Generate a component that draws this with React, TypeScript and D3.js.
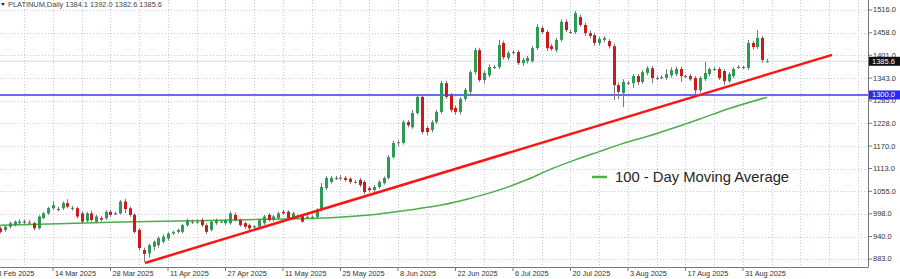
import React, { useEffect } from "react";
import * as d3 from "d3";

// ---------- DATA ----------
// daily bars, one per index (MT4 chart, Sunday bars included)
const opens = [
  961, 957, 965, 969, 974, 978, 976, 974, 961, 987, 999, 1012, 1010, 1012, 1025, 1013, 1012, 999, 980, 999,
  978, 987, 986, 1003, 999, 999, 1029, 1012, 995, 957, 906, 897, 914, 918, 927, 935, 948, 952, 952, 969,
  978, 978, 982, 969, 957, 974, 978, 974, 974, 995, 982, 974, 969, 965, 965, 974, 995, 982, 987, 1003,
  1003, 987, 991, 992, 990, 990, 990, 1008, 1063, 1079, 1089, 1088, 1089, 1087, 1079, 1084, 1079, 1063, 1058, 1066,
  1076, 1089, 1142, 1178, 1178, 1231, 1218, 1254, 1295, 1216, 1211, 1231, 1257, 1330, 1300, 1267, 1257, 1290, 1308, 1358,
  1414, 1338, 1350, 1371, 1371, 1432, 1394, 1409, 1409, 1381, 1386, 1386, 1419, 1470, 1460, 1424, 1414, 1440, 1486, 1460,
  1460, 1498, 1478, 1457, 1452, 1432, 1440, 1437, 1424, 1325, 1305, 1330, 1330, 1348, 1333, 1356, 1368, 1343, 1345, 1343,
  1350, 1353, 1366, 1348, 1348, 1343, 1312, 1340, 1353, 1366, 1366, 1361, 1335, 1348, 1371, 1371, 1369, 1432, 1422, 1445,
  1384.1,
];
const highs = [
  966, 968, 978, 981, 984, 983, 982, 978, 994, 1003, 1016, 1030, 1016, 1030, 1035, 1018, 1016, 1004, 1003, 1006,
  995, 992, 1007, 1008, 1003, 1033, 1036, 1016, 999, 962, 912, 922, 930, 940, 946, 951, 955, 960, 972, 986,
  983, 984, 987, 974, 981, 986, 983, 986, 1003, 1001, 986, 978, 973, 969, 986, 995, 1000, 995, 1003, 1008,
  1007, 1003, 996, 996, 995, 994, 1012, 1076, 1094, 1094, 1094, 1096, 1094, 1091, 1084, 1089, 1083, 1068, 1071, 1083,
  1093, 1147, 1183, 1186, 1236, 1236, 1262, 1302, 1300, 1222, 1236, 1262, 1336, 1336, 1305, 1273, 1295, 1318, 1363, 1420,
  1420, 1362, 1378, 1376, 1440, 1438, 1412, 1414, 1414, 1394, 1399, 1425, 1480, 1476, 1465, 1430, 1445, 1492, 1492, 1466,
  1514, 1504, 1484, 1464, 1458, 1448, 1450, 1442, 1430, 1332, 1340, 1336, 1353, 1354, 1363, 1373, 1374, 1348, 1350, 1366,
  1370, 1372, 1372, 1352, 1353, 1348, 1348, 1384, 1370, 1371, 1371, 1366, 1358, 1371, 1376, 1375, 1440, 1438, 1465, 1450,
  1392.0,
];
const lows = [
  948, 952, 961, 966, 970, 972, 970, 956, 958, 984, 995, 1008, 1004, 1008, 1012, 1006, 986, 972, 976, 978,
  974, 978, 983, 990, 995, 996, 1000, 990, 948, 905, 875, 886, 905, 912, 922, 930, 944, 948, 948, 965,
  972, 973, 965, 946, 953, 970, 974, 970, 970, 978, 965, 960, 956, 960, 961, 970, 978, 978, 983, 996,
  983, 983, 986, 975, 985, 986, 986, 1004, 1058, 1075, 1084, 1083, 1080, 1074, 1075, 1066, 1048, 1052, 1054, 1062,
  1072, 1085, 1138, 1170, 1174, 1218, 1214, 1250, 1200, 1198, 1205, 1226, 1252, 1290, 1256, 1250, 1250, 1285, 1300, 1352,
  1333, 1330, 1345, 1366, 1366, 1390, 1388, 1404, 1376, 1374, 1380, 1382, 1414, 1455, 1412, 1412, 1408, 1435, 1460, 1455,
  1455, 1473, 1450, 1444, 1425, 1426, 1434, 1418, 1287, 1290, 1269, 1325, 1318, 1325, 1328, 1350, 1330, 1338, 1340, 1338,
  1344, 1348, 1333, 1343, 1336, 1300, 1306, 1335, 1348, 1361, 1338, 1325, 1330, 1343, 1366, 1366, 1364, 1415, 1417, 1382,
  1382.6,
];
const closes = [
  952, 965, 974, 978, 978, 976, 975, 961, 991, 999, 1012, 1020, 1009, 1025, 1016, 1012, 991, 978, 999, 982,
  991, 983, 1003, 995, 999, 1029, 1010, 995, 952, 911, 896, 918, 927, 936, 940, 948, 952, 957, 969, 982,
  977, 978, 969, 952, 978, 982, 978, 982, 999, 982, 969, 965, 961, 966, 982, 991, 982, 991, 999, 999,
  987, 999, 990, 978, 990, 990, 1008, 1066, 1089, 1089, 1089, 1090, 1084, 1079, 1079, 1071, 1053, 1058, 1066, 1079,
  1089, 1142, 1178, 1180, 1231, 1223, 1254, 1295, 1206, 1206, 1231, 1257, 1330, 1295, 1262, 1257, 1290, 1313, 1358, 1414,
  1338, 1356, 1371, 1371, 1427, 1396, 1407, 1409, 1381, 1389, 1394, 1419, 1473, 1460, 1419, 1417, 1440, 1486, 1465, 1460,
  1508, 1478, 1457, 1450, 1432, 1442, 1445, 1424, 1325, 1308, 1333, 1331, 1348, 1333, 1358, 1368, 1343, 1343, 1345, 1353,
  1363, 1366, 1348, 1348, 1340, 1312, 1343, 1356, 1366, 1366, 1343, 1335, 1353, 1366, 1371, 1371, 1432, 1422, 1445, 1389,
  1385.6,
];

// 100-day moving average, sampled at bar indices
const maIndex = [0, 10, 25, 40, 55, 69, 77, 85, 92, 98, 104, 110, 115, 120, 125, 130, 136, 141, 146, 152, 160];
const maValue = [969, 972, 977, 980, 984, 988, 995, 1007, 1020, 1037, 1058, 1085, 1112, 1135, 1156, 1177, 1198, 1218, 1239, 1265, 1294];

// trend line (bar index, price) and horizontal level
const trendIndex = [30.2, 173.6];
const trendPrice = [873, 1402];
const levelPrice = 1300;
const lastPrice = 1385.6;

// axis ticks
const priceTicks = [883, 940, 998, 1055, 1113, 1170, 1228, 1285, 1343, 1401, 1458, 1516];
const dateTickIndex = [-1, 11, 23, 35, 47, 59, 71, 83, 95, 107, 119, 131, 143, 155];
const dateTickLabels = [
  "8 Feb 2025", "14 Mar 2025", "28 Mar 2025", "11 Apr 2025", "27 Apr 2025", "11 May 2025", "25 May 2025",
  "8 Jun 2025", "22 Jun 2025", "6 Jul 2025", "20 Jul 2025", "3 Aug 2025", "17 Aug 2025", "31 Aug 2025",
];
const titleText = "PLATINUM,Daily  1384.1 1392.0 1382.6 1385.6";
const legendText = "100 - Day Moving Average";

// ---------- LAYOUT ----------
const W = 900;
const H = 279;
const PR = 868; // plot right
const PB = 267; // plot bottom

export default function App() {
  useEffect(() => {
    document.body.style.margin = "0";
  }, []);

  const x = d3.scaleLinear().domain([-0.06, 181.1]).range([0, PR]);
  const y = d3.scaleLinear().domain([865.2, 1541.4]).range([266, 0]);

  const gridIdx: number[] = [];
  for (let j = -1; x(j) < PR; j += 6) gridIdx.push(j);

  const maLine = d3
    .line<number>()
    .x((_, i) => x(maIndex[i]))
    .y((v) => y(v))
    .curve(d3.curveMonotoneX)(maValue) as string;

  const trend = d3
    .line<number>()
    .x((_, i) => x(trendIndex[i]))
    .y((v) => y(v))(trendPrice) as string;

  const bodyW = 3;
  const font = "'Liberation Sans', Arial, sans-serif";
  const green = "#2f9a55";
  const red = "#cc1a1a";
  const maGreen = "#4aae4a";

  return (
    <svg width={W} height={H} style={{ position: "absolute", left: 0, top: 0, background: "#fff" }}>
      {/* grid */}
      <g stroke="#c3cde0" strokeWidth={1} strokeDasharray="1,2">
        {priceTicks.map((p) => (
          <line key={"h" + p} x1={0} x2={PR} y1={Math.round(y(p)) + 0.5} y2={Math.round(y(p)) + 0.5} />
        ))}
        {gridIdx.map((j) => (
          <line key={"v" + j} x1={Math.round(x(j)) + 0.5} x2={Math.round(x(j)) + 0.5} y1={0} y2={PB} />
        ))}
      </g>

      {/* current price line */}
      <line x1={0} x2={PR} y1={y(lastPrice)} y2={y(lastPrice)} stroke="#d3dbea" strokeWidth={1} />

      {/* 1300 level */}
      <line x1={0} x2={PR} y1={y(levelPrice)} y2={y(levelPrice)} stroke="#6a6af0" strokeWidth={2} />

      {/* moving average */}
      <path d={maLine} fill="none" stroke={maGreen} strokeWidth={1.5} />

      {/* candles */}
      <g>
        {closes.map((c, i) => {
          const o = opens[i];
          const up = c >= o;
          const cx = Math.round(x(i)) + 0.5;
          const top = y(Math.max(o, c));
          const bot = y(Math.min(o, c));
          const h = Math.max(1, bot - top);
          return (
            <g key={i}>
              <line x1={cx} x2={cx} y1={y(highs[i])} y2={y(lows[i])} stroke="#7a7a7a" strokeWidth={1} />
              <rect
                x={cx - bodyW / 2}
                y={top}
                width={bodyW}
                height={h}
                fill={Math.abs(c - o) < 1.5 ? "#666" : up ? green : red}
              />
            </g>
          );
        })}
      </g>

      {/* trend line */}
      <path d={trend} fill="none" stroke="#ff1414" strokeWidth={2.5} />

      {/* axes frame */}
      <line x1={PR + 0.5} x2={PR + 0.5} y1={0} y2={PB} stroke="#777" strokeWidth={1} />
      <line x1={0} x2={PR + 0.5} y1={PB + 0.5} y2={PB + 0.5} stroke="#777" strokeWidth={1} />

      {/* right axis */}
      <g fontFamily={font} fontSize={7.5} fill="#333">
        {priceTicks.map((p) => (
          <g key={"t" + p}>
            <line x1={PR} x2={PR + 4} y1={y(p)} y2={y(p)} stroke="#777" />
            <text x={PR + 5} y={y(p)} dominantBaseline="central">
              {p.toFixed(1)}
            </text>
          </g>
        ))}
      </g>

      {/* level labels */}
      <g fontFamily={font} fontSize={7.5}>
        <rect x={PR + 1} y={y(lastPrice) - 4.5} width={31} height={9} fill="#111" />
        <text x={PR + 4} y={y(lastPrice)} dominantBaseline="central" fill="#fff">
          {lastPrice.toFixed(1)}
        </text>
        <rect x={PR + 1} y={y(levelPrice) - 4.5} width={31} height={9} fill="#2a2af0" />
        <text x={PR + 4} y={y(levelPrice)} dominantBaseline="central" fill="#fff">
          {levelPrice.toFixed(1)}
        </text>
      </g>

      {/* bottom axis */}
      <g fontFamily={font} fontSize={7.3} fill="#333">
        {dateTickIndex.map((j, k) => (
          <g key={"d" + j}>
            <line x1={x(j)} x2={x(j)} y1={PB} y2={PB + 4} stroke="#777" />
            <text x={x(j) + 2} y={275.5}>
              {dateTickLabels[k]}
            </text>
          </g>
        ))}
      </g>

      {/* title */}
      <path d="M1,3 L5,3 L3,6 Z" fill="#333" />
      <text x={8} y={6.5} fontFamily={font} fontSize={7.4} fill="#444">
        {titleText}
      </text>

      {/* legend */}
      <line x1={592} x2={607} y1={177} y2={177} stroke={maGreen} strokeWidth={2.5} />
      <text x={615} y={182} fontFamily={font} fontSize={14.8} fill="#262626">
        {legendText}
      </text>
    </svg>
  );
}
